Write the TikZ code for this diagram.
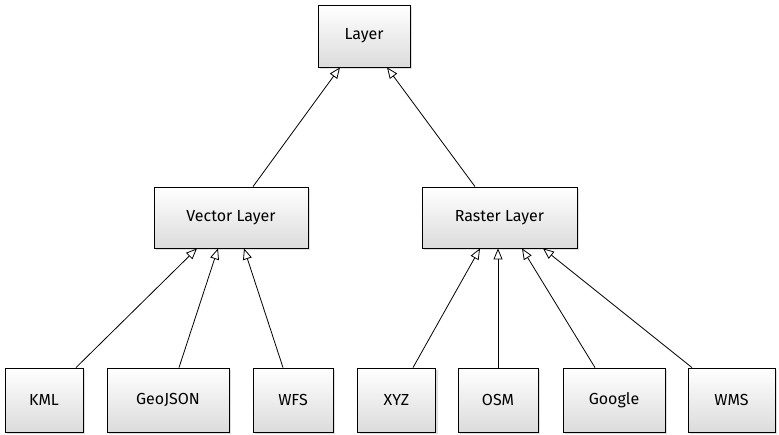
\documentclass[tikz,border=0pt]{standalone}
\usepackage{fontspec}
\setmainfont{Fira Sans}
\usetikzlibrary{arrows.meta,shadows}
\begin{document}
\begin{tikzpicture}[x=1pt,y=1pt,%
% common options for the class boxes:
cls/.style = {rectangle, draw, thick, top color=white, bottom color=black!14,
            drop shadow={shadow xshift=2pt, shadow yshift=-2pt, opacity=0.25},
            align=center, inner sep=0, font=\fontsize{16}{18}\selectfont},
% common options for the inheritance arrows:
inherit/.style = {draw, thick, -{Triangle[open, length=11pt, width=9pt, fill=white]}}]
\useasboundingbox (0,0) rectangle (779,-435);
\node[cls, minimum width=92pt, minimum height=62pt] (layer) at (364,-36) {Layer};
\node[cls, minimum width=154pt, minimum height=61pt] (vector) at (231,-217.5) {Vector Layer};
\node[cls, minimum width=155pt, minimum height=61pt] (raster) at (499.5,-217.5) {Raster Layer};
\node[cls, minimum width=78pt, minimum height=64pt] (kml) at (44,-400) {KML};
\node[cls, minimum width=122pt, minimum height=64pt] (geojson) at (168,-400) {GeoJSON};
\node[cls, minimum width=80pt, minimum height=64pt] (wfs) at (293,-400) {WFS};
\node[cls, minimum width=78pt, minimum height=64pt] (xyz) at (396.5,-400) {XYZ};
\node[cls, minimum width=80pt, minimum height=64pt] (osm) at (498,-400) {OSM};
\node[cls, minimum width=102pt, minimum height=64pt] (google) at (614,-400) {Google};
\node[cls, minimum width=87pt, minimum height=64pt] (wms) at (731.5,-400) {WMS};
\draw[inherit] ([xshift=22pt]vector.north) to ([xshift=-24pt]layer.south);
\draw[inherit] ([xshift=-24.5pt]raster.north) to ([xshift=23pt]layer.south);
\draw[inherit] ([xshift=32pt]kml.north) to ([xshift=-34pt]vector.south);
\draw[inherit] ([xshift=11pt]geojson.north) to ([xshift=-13pt]vector.south);
\draw[inherit] ([xshift=-10pt]wfs.north) to ([xshift=13pt]vector.south);
\draw[inherit] ([xshift=16.5pt]xyz.north) to ([xshift=-19.5pt]raster.south);
\draw[inherit] (osm.north) to ([xshift=-1.5pt]raster.south);
\draw[inherit] ([xshift=-19pt]google.north) to ([xshift=22.5pt]raster.south);
\draw[inherit] ([xshift=-39.5pt]wms.north) to ([xshift=43.5pt]raster.south);
\end{tikzpicture}
\end{document}
